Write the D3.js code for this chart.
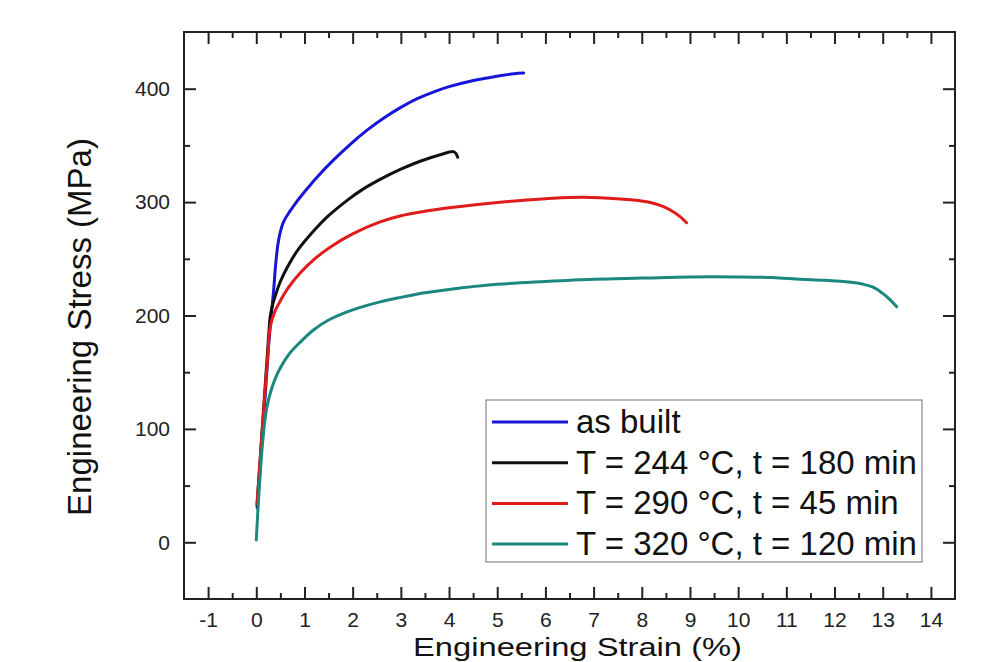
<!DOCTYPE html>
<html>
<head>
<meta charset="utf-8">
<script src="https://cdn.jsdelivr.net/npm/d3@7"></script>
<style>
  body { margin: 0; background: #fff; }
  svg { display: block; font-family: "Liberation Sans", Arial, sans-serif; }
</style>
</head>
<body>
<div id="chart"></div>
<script>
// series labels and colours
var seriesNames = ["as built", "T = 244 \u00b0C, t = 180 min", "T = 290 \u00b0C, t = 45 min", "T = 320 \u00b0C, t = 120 min"];
var seriesColors = ["#1616d8", "#111111", "#e01b1b", "#1b887e"];

// strain (%) and stress (MPa)
var asBuiltStrain = [0.02, 0.10, 0.18, 0.25, 0.31, 0.36, 0.40, 0.45, 0.50, 0.57, 0.70, 0.84, 1.0, 1.26, 1.6, 1.95, 2.3, 2.64, 3.0, 3.33, 3.7, 4.02, 4.44, 4.8, 5.12, 5.35, 5.55];
var asBuiltStress = [30, 78, 126, 170, 200, 222, 244, 263, 274, 283, 292, 300.5, 309, 322, 337, 351, 363.5, 374, 383.5, 391, 397.5, 402, 406.5, 409.5, 411.8, 413.2, 413.8];

var t244Strain = [0.015, 0.10, 0.18, 0.25, 0.30, 0.40, 0.50, 0.65, 0.85, 1.18, 1.5, 1.9, 2.2, 2.57, 3.0, 3.4, 3.8, 4.09, 4.14, 4.18];
var t244Stress = [32, 85, 135, 178, 202, 218, 230, 243, 257, 274, 288, 302, 311, 320, 329, 336, 341.5, 344.5, 343, 339.5];

var t290Strain = [0.015, 0.10, 0.18, 0.24, 0.29, 0.38, 0.50, 0.64, 0.9, 1.2, 1.54, 2.0, 2.57, 3.0, 3.5, 4.0, 4.5, 5.0, 5.5, 6.16, 6.8, 7.55, 8.0, 8.24, 8.45, 8.65, 8.8, 8.93];
var t290Stress = [34, 85, 132, 165, 190, 203, 213, 223, 237, 249.5, 260.5, 272, 282.5, 288, 292, 295, 297.5, 299.6, 301.4, 303.4, 304.2, 302.7, 301, 299, 296, 291.5, 287, 281.8];

var t320Strain = [0, 0.05, 0.10, 0.14, 0.18, 0.22, 0.30, 0.40, 0.5, 0.7, 0.9, 1.18, 1.5, 2.0, 2.57, 3.0, 3.5, 4.0, 5.0, 6.0, 7.0, 8.0, 9.0, 10.0, 10.7, 11.29, 11.8, 12.3, 12.6, 12.81, 13.0, 13.15, 13.29];
var t320Stress = [2, 40, 72, 92, 108, 119, 133, 145, 154, 167, 176, 187, 196, 205, 212, 216, 220, 223, 227.5, 230, 232, 233, 234, 234, 233.5, 232, 231, 229.5, 227.5, 224.8, 219.5, 214, 207.7];

var xTicks = [-1, 0, 1, 2, 3, 4, 5, 6, 7, 8, 9, 10, 11, 12, 13, 14];
var yTicks = [0, 100, 200, 300, 400];

var svgWidth = 1001;
var svgHeight = 662;

var margin = {
    top: 32,
    right: 46,
    bottom: 63,
    left: 184
  };

var width = svgWidth - margin.left - margin.right;
var height = svgHeight - margin.top - margin.bottom;

var svg = d3.select("#chart")
  .append("svg")
  .attr("width", svgWidth)
  .attr("height", svgHeight);

svg.append("rect")
  .attr("width", svgWidth)
  .attr("height", svgHeight)
  .attr("fill", "#fff");

var chartGroup = svg.append("g")
  .attr("transform", `translate(${margin.left}, ${margin.top})`);

var xScale = d3.scaleLinear().domain([-1.5, 14.5]).range([0, width]);
var yScale = d3.scaleLinear().domain([-50, 450]).range([height, 0]);

var minorX = d3.range(-1.5, 14.51, 0.5).filter(d => !xTicks.includes(d) && d > -1.5 && d < 14.5);
var minorY = [50, 150, 250, 350];

//axes on all four sides, ticks pointing in
function styleAxis(g) {
    g.attr("font-family", null).attr("font-size", null);
    g.select(".domain").remove();
    g.selectAll("line").attr("stroke", "#222").attr("stroke-width", 2);
    g.selectAll("text").attr("fill", "#222").style("font-size", "21px");
}

// plain hyphen for negatives, like the original
var plainFormat = d => String(d);

chartGroup.append("g")
  .attr("transform", `translate(0, ${height})`)
  .call(d3.axisBottom(xScale).tickValues(xTicks).tickSize(-12).tickPadding(13).tickFormat(plainFormat))
  .call(styleAxis);
chartGroup.append("g")
  .attr("transform", `translate(0, ${height})`)
  .call(d3.axisBottom(xScale).tickValues(minorX).tickSize(-6).tickFormat(""))
  .call(styleAxis);

chartGroup.append("g")
  .call(d3.axisTop(xScale).tickValues(xTicks).tickSize(-12).tickFormat(""))
  .call(styleAxis);
chartGroup.append("g")
  .call(d3.axisTop(xScale).tickValues(minorX).tickSize(-6).tickFormat(""))
  .call(styleAxis);

chartGroup.append("g")
  .call(d3.axisLeft(yScale).tickValues(yTicks).tickSize(-12).tickPadding(14).tickFormat(plainFormat))
  .call(styleAxis);
chartGroup.append("g")
  .call(d3.axisLeft(yScale).tickValues(minorY).tickSize(-6).tickFormat(""))
  .call(styleAxis);

chartGroup.append("g")
  .attr("transform", `translate(${width}, 0)`)
  .call(d3.axisRight(yScale).tickValues(yTicks).tickSize(-12).tickFormat(""))
  .call(styleAxis);
chartGroup.append("g")
  .attr("transform", `translate(${width}, 0)`)
  .call(d3.axisRight(yScale).tickValues(minorY).tickSize(-6).tickFormat(""))
  .call(styleAxis);

// frame
chartGroup.append("rect")
  .attr("width", width)
  .attr("height", height)
  .attr("fill", "none")
  .attr("stroke", "#222")
  .attr("stroke-width", 2);

// curves
var allSeries = [
    {x: asBuiltStrain, y: asBuiltStress},
    {x: t244Strain, y: t244Stress},
    {x: t290Strain, y: t290Stress},
    {x: t320Strain, y: t320Stress}
];

var line = d3.line()
  .x(d => xScale(d[0]))
  .y(d => yScale(d[1]))
  .curve(d3.curveCatmullRom.alpha(0.5));

allSeries.forEach(function(s, i) {
    var pts = s.x.map((v, j) => [v, s.y[j]]);
    chartGroup.append("path")
      .datum(pts)
      .attr("d", line)
      .attr("fill", "none")
      .attr("stroke", seriesColors[i])
      .attr("stroke-width", 3)
      .attr("stroke-linejoin", "round")
      .attr("stroke-linecap", "round");
});

// legend
var legend = svg.append("g").attr("transform", "translate(486, 400)");
legend.append("rect")
  .attr("width", 436)
  .attr("height", 162)
  .attr("fill", "#fff")
  .attr("stroke", "#888")
  .attr("stroke-width", 1.2);

seriesNames.forEach(function(name, i) {
    var yy = 22 + i * 40.7;
    legend.append("line")
      .attr("x1", 6).attr("x2", 82)
      .attr("y1", yy).attr("y2", yy)
      .attr("stroke", seriesColors[i])
      .attr("stroke-width", 3);
    legend.append("text")
      .attr("x", 90)
      .attr("y", yy + 11)
      .attr("fill", "#111")
      .style("font-size", "33px")
      .text(name);
});

// axis titles
svg.append("text")
  .attr("x", 413)
  .attr("y", 656)
  .attr("textLength", 329)
  .attr("lengthAdjust", "spacingAndGlyphs")
  .attr("fill", "#111")
  .style("font-size", "26px")
  .text("Engineering Strain (%)");

svg.append("text")
  .attr("transform", "translate(91, 327) rotate(-90)")
  .attr("text-anchor", "middle")
  .attr("fill", "#111")
  .style("font-size", "33px")
  .text("Engineering Stress (MPa)");
</script>
</body>
</html>
